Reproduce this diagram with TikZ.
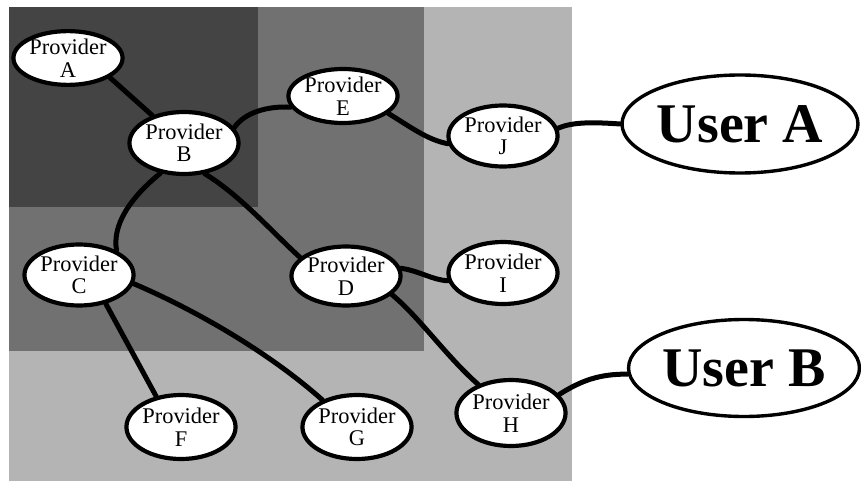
\documentclass[tikz,border=0pt]{standalone}
\usepackage{fontspec}
\setmainfont{Liberation Serif}
\newfontfamily\labelface{Liberation Serif}
\usetikzlibrary{shapes.geometric,backgrounds}

\definecolor{zoneinner}{RGB}{68,68,68}
\definecolor{zonemid}{RGB}{113,113,113}
\definecolor{zoneouter}{RGB}{181,180,181}

\tikzset{
  provider/.style={ellipse, draw=black, line width=4.2pt, fill=white,
    inner sep=0pt, align=center,
    font=\labelface\fontsize{22.4}{22.5}\selectfont},
  userbox/.style={ellipse, draw=black, line width=3.4pt, fill=white,
    inner sep=0pt, font=\labelface\fontsize{56}{56}\selectfont\bfseries},
  link/.style={draw=black, line width=5pt, line cap=round}
}

\begin{document}
\begin{tikzpicture}[x=1pt,y=1pt]
\useasboundingbox (0,0) rectangle (861,-481);

% provider nodes
\node[provider, minimum width=88, minimum height=46] (A) at (68,-58) {Provider\\A};
\node[provider, minimum width=94, minimum height=62] (B) at (184,-143) {Provider\\B};
\node[provider, minimum width=92, minimum height=54] (E) at (343,-96) {Provider\\E};
\node[provider, minimum width=95, minimum height=61] (J) at (503,-136) {Provider\\J};
\node[provider, minimum width=95, minimum height=61] (C) at (79,-275) {Provider\\C};
\node[provider, minimum width=93, minimum height=59] (D) at (346,-276) {Provider\\D};
\node[provider, minimum width=96, minimum height=62] (I) at (503,-273) {Provider\\I};
\node[provider, minimum width=94, minimum height=64] (F) at (181,-427) {Provider\\F};
\node[provider, minimum width=95, minimum height=64] (G) at (357,-427) {Provider\\G};
\node[provider, minimum width=94, minimum height=66] (H) at (511,-413) {Provider\\H};

% user nodes
\node[userbox, minimum width=236, minimum height=98] (UA) at (740,-124) {User A};
\node[userbox, minimum width=228, minimum height=97] (UB) at (744,-368) {User B};

\begin{scope}[on background layer]
  % nested zones
  \fill[zoneouter] (8.5,-7) rectangle (572,-481);
  \fill[zonemid] (8.5,-7) rectangle (424,-351);
  \fill[zoneinner] (8.5,-7) rectangle (258,-207);

  % links
  \draw[link] (A.-25) -- (B.139);
  \draw[link] (B.17) .. controls (245,-112) and (268,-106) .. (E.192);
  \draw[link] (B.232) .. controls (130,-198) and (112,-225) .. (C.33);
  \draw[link] (B.-56) .. controls (240,-195) and (272,-232) .. (D.158);
  \draw[link] (E.-21) .. controls (412,-128) and (428,-140) .. (J.188);
  \draw[link] (J.8) .. controls (572,-122) and (592,-122) .. (UA.west);
  \draw[link] (D.8) .. controls (420,-271) and (432,-280) .. (I.188);
  \draw[link] (D.-22) .. controls (420,-318) and (446,-356) .. (H.139);
  \draw[link] (C.-9) .. controls (200,-312) and (272,-355) .. (G.142);
  \draw[link] (C.-47) -- (F.129);
  \draw[link] (H.21) .. controls (582,-380) and (600,-374) .. (UB.183);
\end{scope}
\end{tikzpicture}
\end{document}
